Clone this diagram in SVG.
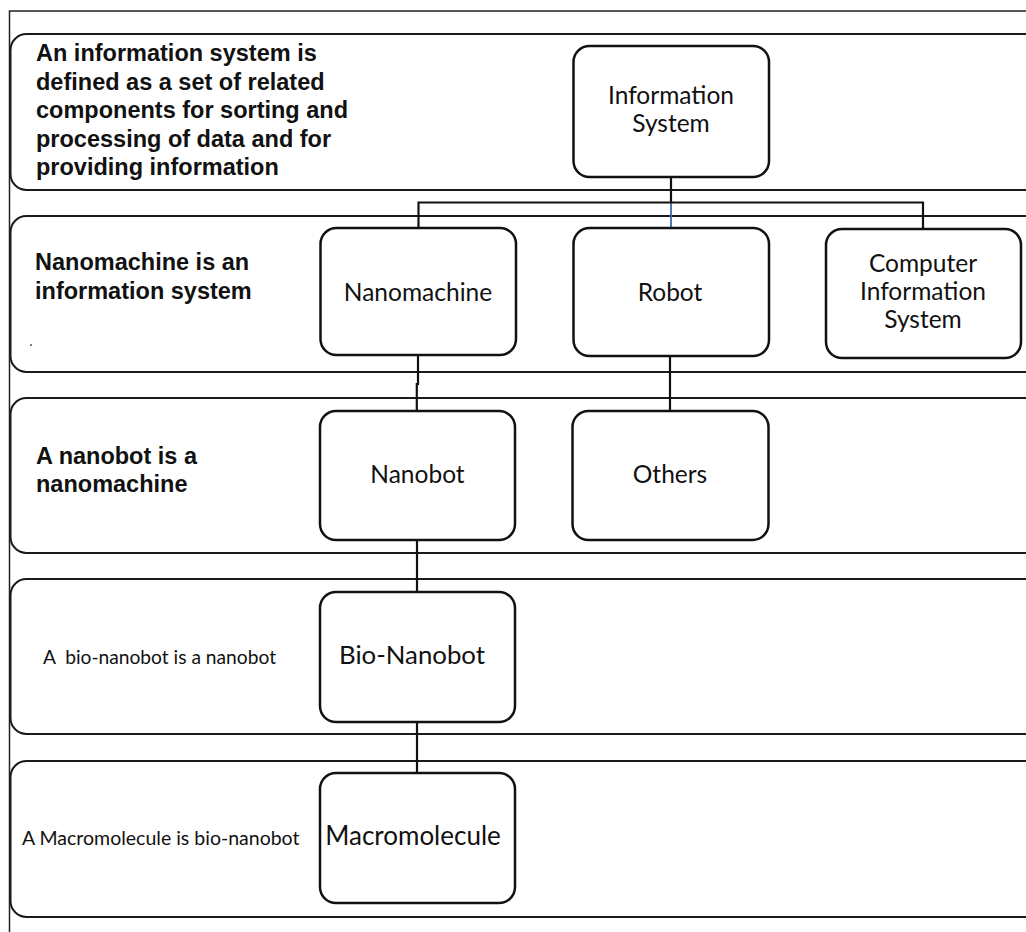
<svg xmlns="http://www.w3.org/2000/svg" width="1026" height="932" viewBox="0 0 1026 932">
  <style>
    .frame { fill: none; stroke: #222; stroke-width: 1.5; }
    .lane { fill: none; stroke: #1a1a1a; stroke-width: 2; }
    .box { fill: #fff; stroke: #111; stroke-width: 2.5; }
    .wire { fill: none; stroke: #111; stroke-width: 2.2; }
    .wire-blue { fill: none; stroke: #3d6bb8; stroke-width: 1.8; }
    .note { font-family: "Liberation Sans", Arial, sans-serif; font-weight: bold; font-size: 23.5px; fill: #111; }
    .note-plain { font-family: Lato, "Open Sans", sans-serif; font-size: 19.5px; fill: #111; white-space: pre; }
    .label { font-family: Lato, "Open Sans", sans-serif; font-size: 24.5px; fill: #111; text-anchor: middle; }
  </style>
  <rect width="1026" height="932" fill="#fff"/>

  <!-- outer frame (top and left edges) -->
  <path class="frame" d="M9.5,932 V11 H1026"/>

  <!-- level bands -->
  <g id="bands">
    <rect class="lane" x="10.5" y="34" width="1040" height="156" rx="16"/>
    <rect class="lane" x="10.5" y="216" width="1040" height="156" rx="16"/>
    <rect class="lane" x="10.5" y="398" width="1040" height="155" rx="16"/>
    <rect class="lane" x="10.5" y="579" width="1040" height="155" rx="16"/>
    <rect class="lane" x="10.5" y="761" width="1040" height="156" rx="16"/>
  </g>

  <!-- band captions -->
  <g id="captions">
    <text class="note" x="36" y="61">An information system is</text>
    <text class="note" x="36" y="89.5">defined as a set of related</text>
    <text class="note" x="36" y="118">components for sorting and</text>
    <text class="note" x="36" y="146.5">processing of data and for</text>
    <text class="note" x="36" y="175">providing information</text>
    <text class="note" x="35" y="270">Nanomachine is an</text>
    <text class="note" x="35" y="299">information system</text>
    <circle cx="31" cy="345" r="1" fill="#555"/>
    <text class="note" x="36" y="464">A nanobot is a</text>
    <text class="note" x="36" y="492">nanomachine</text>
    <text class="note-plain" x="43" y="664" style="font-size:19.2px" xml:space="preserve">A  bio-nanobot is a nanobot</text>
    <text class="note-plain" x="22" y="845">A Macromolecule is bio-nanobot</text>
  </g>

  <!-- connectors -->
  <g id="connectors">
    <path class="wire" d="M671,177 V202.5"/>
    <path class="wire-blue" d="M671,202.5 V228"/>
    <path class="wire" d="M418.5,228 V202.5 H923 V229"/>
    <path class="wire" d="M418,355 V384 H416.8 V411"/>
    <path class="wire" d="M670,356 V411"/>
    <path class="wire" d="M417,540 V592"/>
    <path class="wire" d="M417,722 V773"/>
  </g>

  <g id="information-system">
    <rect class="box" x="573.5" y="46" width="195.5" height="131" rx="16"/>
    <text class="label" x="671" y="104">Information</text>
    <text class="label" x="671" y="132">System</text>
  </g>
  <g id="nanomachine">
    <rect class="box" x="320.5" y="228" width="195.5" height="127" rx="16"/>
    <text class="label" x="418" y="301">Nanomachine</text>
  </g>
  <g id="robot">
    <rect class="box" x="573.5" y="228" width="195.5" height="128" rx="16"/>
    <text class="label" x="670" y="301">Robot</text>
  </g>
  <g id="computer-information-system">
    <rect class="box" x="826" y="229" width="195" height="129" rx="16"/>
    <text class="label" x="923" y="272">Computer</text>
    <text class="label" x="923" y="300">Information</text>
    <text class="label" x="923" y="328">System</text>
  </g>
  <g id="nanobot">
    <rect class="box" x="320" y="411" width="195" height="129" rx="16"/>
    <text class="label" x="417.5" y="483">Nanobot</text>
  </g>
  <g id="others">
    <rect class="box" x="572.5" y="411" width="196" height="129" rx="16"/>
    <text class="label" x="670" y="483">Others</text>
  </g>
  <g id="bio-nanobot">
    <rect class="box" x="320" y="592" width="195" height="130" rx="16"/>
    <text class="label" x="412" y="664" style="font-size:25.8px">Bio-Nanobot</text>
  </g>
  <g id="macromolecule">
    <rect class="box" x="320" y="773" width="195" height="130" rx="16"/>
    <text class="label" x="413" y="845" style="font-size:26px">Macromolecule</text>
  </g>
</svg>
